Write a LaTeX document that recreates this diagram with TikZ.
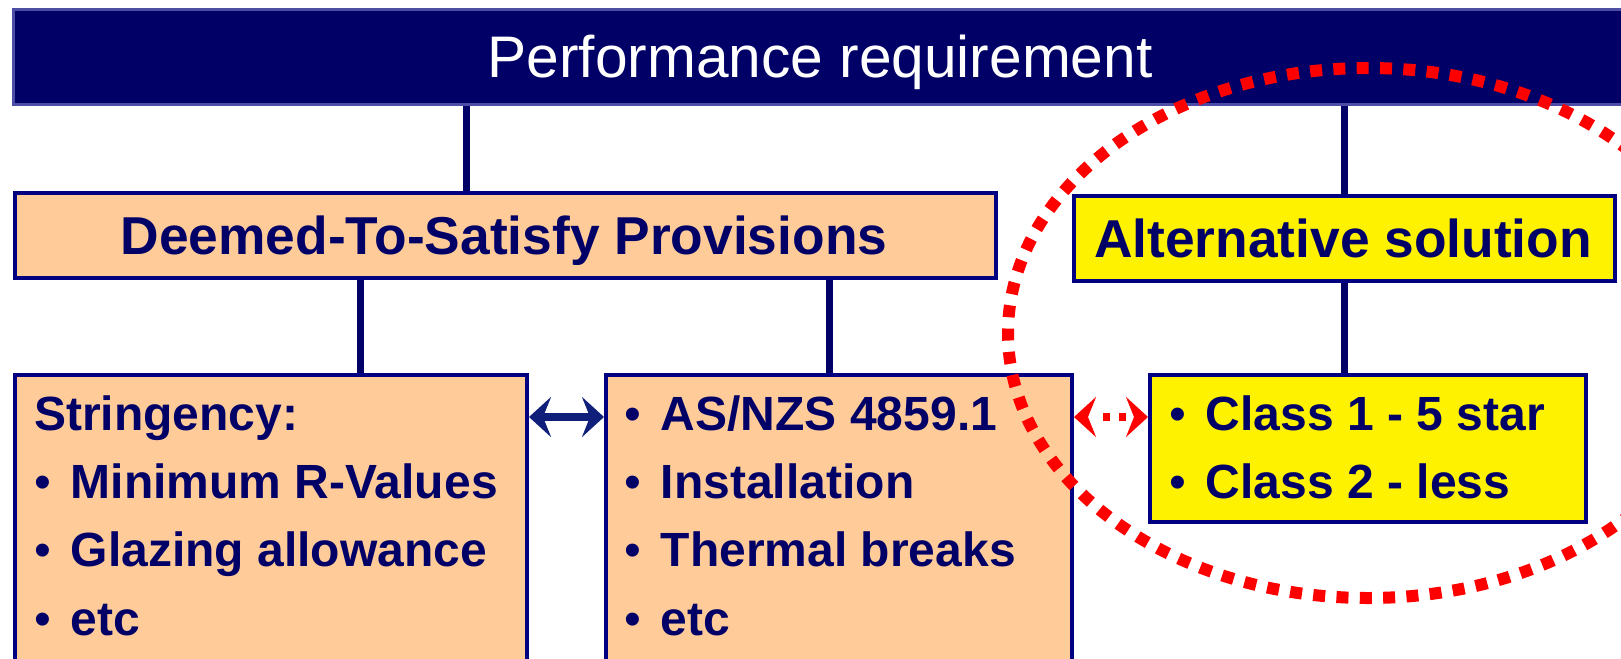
\documentclass[tikz,border=0pt]{standalone}
\usepackage{fontspec}
\setmainfont{Liberation Sans}
\usetikzlibrary{arrows.meta,calc}

\definecolor{barnavy}{HTML}{000066}
\definecolor{barrim}{HTML}{4D4DA6}
\definecolor{boxnavy}{HTML}{000080}
\definecolor{tanfill}{HTML}{FFCC99}
\definecolor{arrowblue}{HTML}{10207A}
\newcommand{\bul}{\makebox[27.5pt][l]{\mdseries\textbullet}}
\newcommand{\listfont}{\fontsize{36}{51.25}\selectfont\bfseries}

\tikzset{
  boxline/.style={draw=boxnavy, line width=3pt, inner sep=0pt, anchor=north west},
  tanbox/.style={boxline, fill=tanfill},
  yelbox/.style={boxline, fill=yellow},
  link/.style={draw=barnavy, line width=5.25pt},
  headtxt/.style={anchor=base, inner sep=0pt, text=barnavy, font=\fontsize{40}{48}\selectfont\bfseries},
  listtext/.style={anchor=base west, inner sep=0pt, text=barnavy, font=\listfont},
  bighead/.tip={Stealth[length=16.5pt, width=30pt, inset=6pt]}
}

\begin{document}
\begin{tikzpicture}[x=0.75pt, y=-0.75pt]
	%%%%% START %%%%%
	\useasboundingbox (0,0) rectangle (1621,658);
	
	\node[draw=barrim, fill=barnavy, line width=2pt, inner sep=0pt, anchor=north west,
		minimum width=1228.5pt, minimum height=71.25pt] (perf) at (12,8) {};
	\node[anchor=base, inner sep=0pt, text=white, font=\fontsize{44}{52}\selectfont] (perftxt) at (820,77) {Performance requirement};
	
	\node[tanbox, minimum width=735.75pt, minimum height=63.75pt] (deemed) at (13,191) {};
	\node[headtxt] (deemedtxt) at (504,254) {Deemed-To-Satisfy Provisions};
	
	\node[yelbox, minimum width=405.75pt, minimum height=63.75pt] (alt) at (1072,194) {};
	\node[headtxt] (alttxt) at (1343,257) {Alternative solution};
	
	\node[tanbox, minimum width=384pt, minimum height=260pt] (strbox) at (13,373) {};
	\node[tanbox, minimum width=349.5pt, minimum height=260pt] (asbox) at (604,373) {};
	\node[yelbox, minimum width=327pt, minimum height=110.25pt] (classbox) at (1148,373) {};
	
	\node[listtext] (strtxt) at (34,430) {\begin{tabular}[t]{@{}l@{}}Stringency:\\ \bul Minimum R-Values\\ \bul Glazing allowance\\ \bul etc\end{tabular}};
	\node[listtext] (astxt) at (624,430) {\begin{tabular}[t]{@{}l@{}}\bul AS/NZS 4859.1\\ \bul Installation\\ \bul Thermal breaks\\ \bul etc\end{tabular}};
	\node[listtext] (classtxt) at (1169,430) {\begin{tabular}[t]{@{}l@{}}\bul Class 1 - 5 star\\ \bul Class 2 - less\end{tabular}};
	
	% tree lines
	\coordinate (j1) at (466,0);
	\coordinate (j2) at (1344,0);
	\coordinate (j3) at (360,0);
	\coordinate (j4) at (829,0);
	\draw[link] (perf.south -| j1) -- (deemed.north -| j1);
	\draw[link] (perf.south -| j2) -- (alt.north -| j2);
	\draw[link] (deemed.south -| j3) -- (strbox.north -| j3);
	\draw[link] (deemed.south -| j4) -- (asbox.north -| j4);
	\draw[link] (alt.south -| j2) -- (classbox.north -| j2);
	
	% side arrows
	\coordinate (arr) at (0,417);
	\draw[arrowblue, line width=6pt, bighead-bighead] (strbox.east |- arr) -- (asbox.west |- arr);
	\draw[red, line width=6pt, dash pattern=on 0pt off 12pt on 5.25pt off 6.75pt on 5.25pt off 20pt, bighead-bighead] (asbox.east |- arr) -- (classbox.west |- arr);
	
	\draw[red, line width=9pt, dash pattern=on 9pt off 8.5pt] (1368,333) ellipse [x radius=360, y radius=265];
	%%%%% END %%%%%
\end{tikzpicture}
\end{document}
